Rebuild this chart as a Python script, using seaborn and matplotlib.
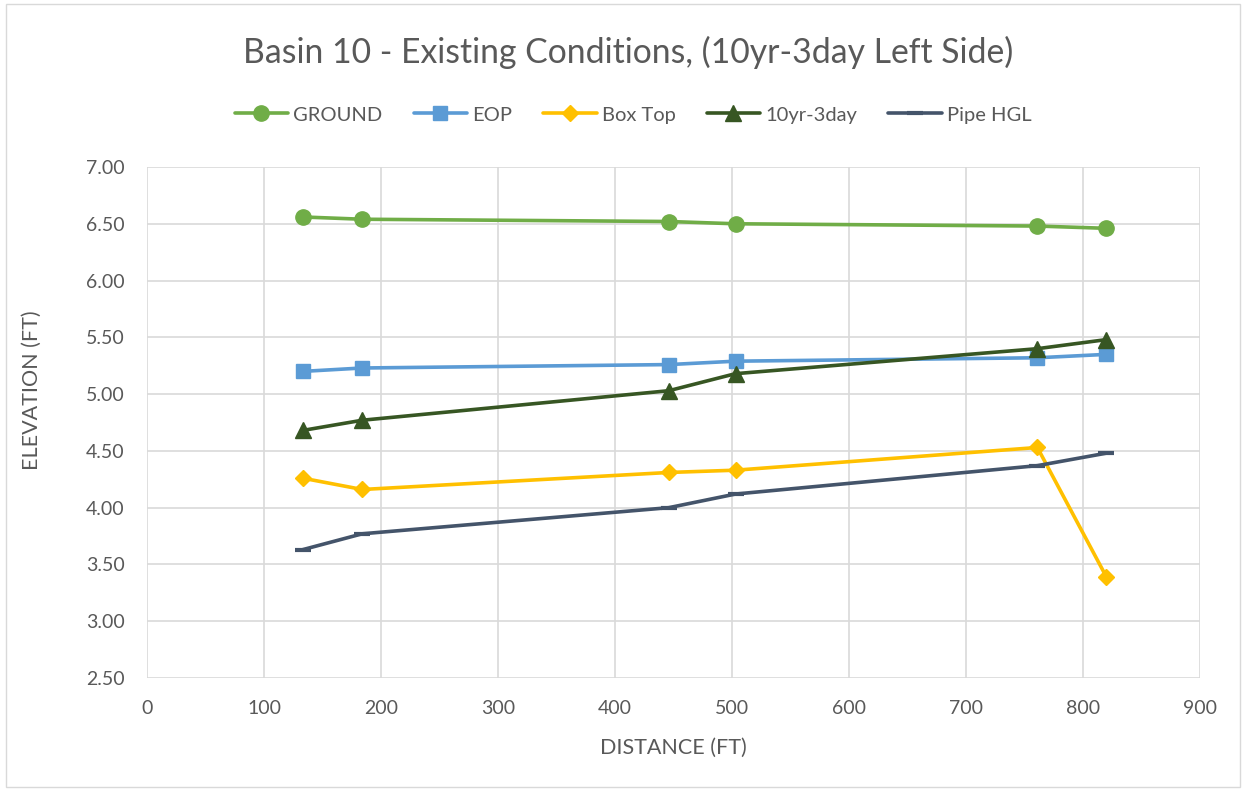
import pandas as pd
import matplotlib.pyplot as plt
import seaborn as sns
from matplotlib.patches import Rectangle

distance = [133, 184, 446, 503, 761, 820]
ground = [6.56, 6.54, 6.52, 6.50, 6.48, 6.46]
eop = [5.20, 5.23, 5.26, 5.29, 5.32, 5.35]
box_top = [4.26, 4.16, 4.31, 4.33, 4.53, 3.39]
storm = [4.68, 4.77, 5.03, 5.18, 5.40, 5.48]
pipe_hgl = [3.63, 3.77, 4.00, 4.12, 4.37, 4.48]

series = [
    ('GROUND', ground, '#70AD47', 'o', 11),
    ('EOP', eop, '#5B9BD5', 's', 10),
    ('Box Top', box_top, '#FFC000', 'D', 8),
    ('10yr-3day', storm, '#375623', '^', 11),
    ('Pipe HGL', pipe_hgl, '#44546A', '_', 12),
]

sns.set_style('white')
plt.rcParams['font.family'] = ['Lato', 'DejaVu Sans']
text_color = '#595959'

fig = plt.figure(figsize=(12.46, 7.91), dpi=100)
ax = fig.add_axes([147 / 1246, 1 - 678 / 791, (1200 - 147) / 1246, (678 - 167) / 791])

for name, values, color, marker, size in series:
    df = pd.DataFrame({'x': distance, 'y': values})
    sns.lineplot(data=df, x='x', y='y', ax=ax, color=color, marker=marker,
                 markersize=size, markeredgecolor=color, markeredgewidth=3 if marker == '_' else 1,
                 linewidth=2.6, label=name)

ax.set_xlim(0, 900)
ax.set_ylim(2.5, 7.0)
ax.set_xticks(range(0, 901, 100))
ax.set_yticks([2.5 + 0.5 * i for i in range(10)])
ax.set_yticklabels([f'{2.5 + 0.5 * i:.2f}' for i in range(10)])
ax.grid(True, color='#D9D9D9', linewidth=1.2)
ax.set_axisbelow(True)
for s in ax.spines.values():
    s.set_visible(False)
ax.tick_params(axis='both', length=0, labelsize=14, labelcolor=text_color)
ax.tick_params(axis='x', pad=16)
ax.tick_params(axis='y', pad=16)
ax.set_xlabel('DISTANCE (FT)', fontsize=15.5, color=text_color)
ax.set_ylabel('ELEVATION (FT)', fontsize=15.5, color=text_color)
ax.xaxis.set_label_coords(673 / 1246, 1 - 748 / 791, transform=fig.transFigure)
ax.yaxis.set_label_coords(32 / 1246, 1 - 390 / 791, transform=fig.transFigure)
ax.xaxis.label.set_va('center')
ax.yaxis.label.set_va('center')

ax.legend(loc='center', bbox_to_anchor=(633 / 1246, 1 - 115 / 791), bbox_transform=fig.transFigure,
          ncol=5, frameon=False, fontsize=14.5, labelcolor=text_color,
          handlelength=2.65, columnspacing=1.55, handletextpad=0.25)

fig.text(628 / 1246, 1 - 52 / 791, 'Basin 10 - Existing Conditions, (10yr-3day Left Side)',
         ha='center', va='center', fontsize=24.3, color=text_color)

fig.patches.append(Rectangle((0.005, 0.005), 0.99, 0.99, transform=fig.transFigure,
                             fill=False, edgecolor='#D9D9D9', linewidth=1))

fig.savefig('out.png', dpi=100)
